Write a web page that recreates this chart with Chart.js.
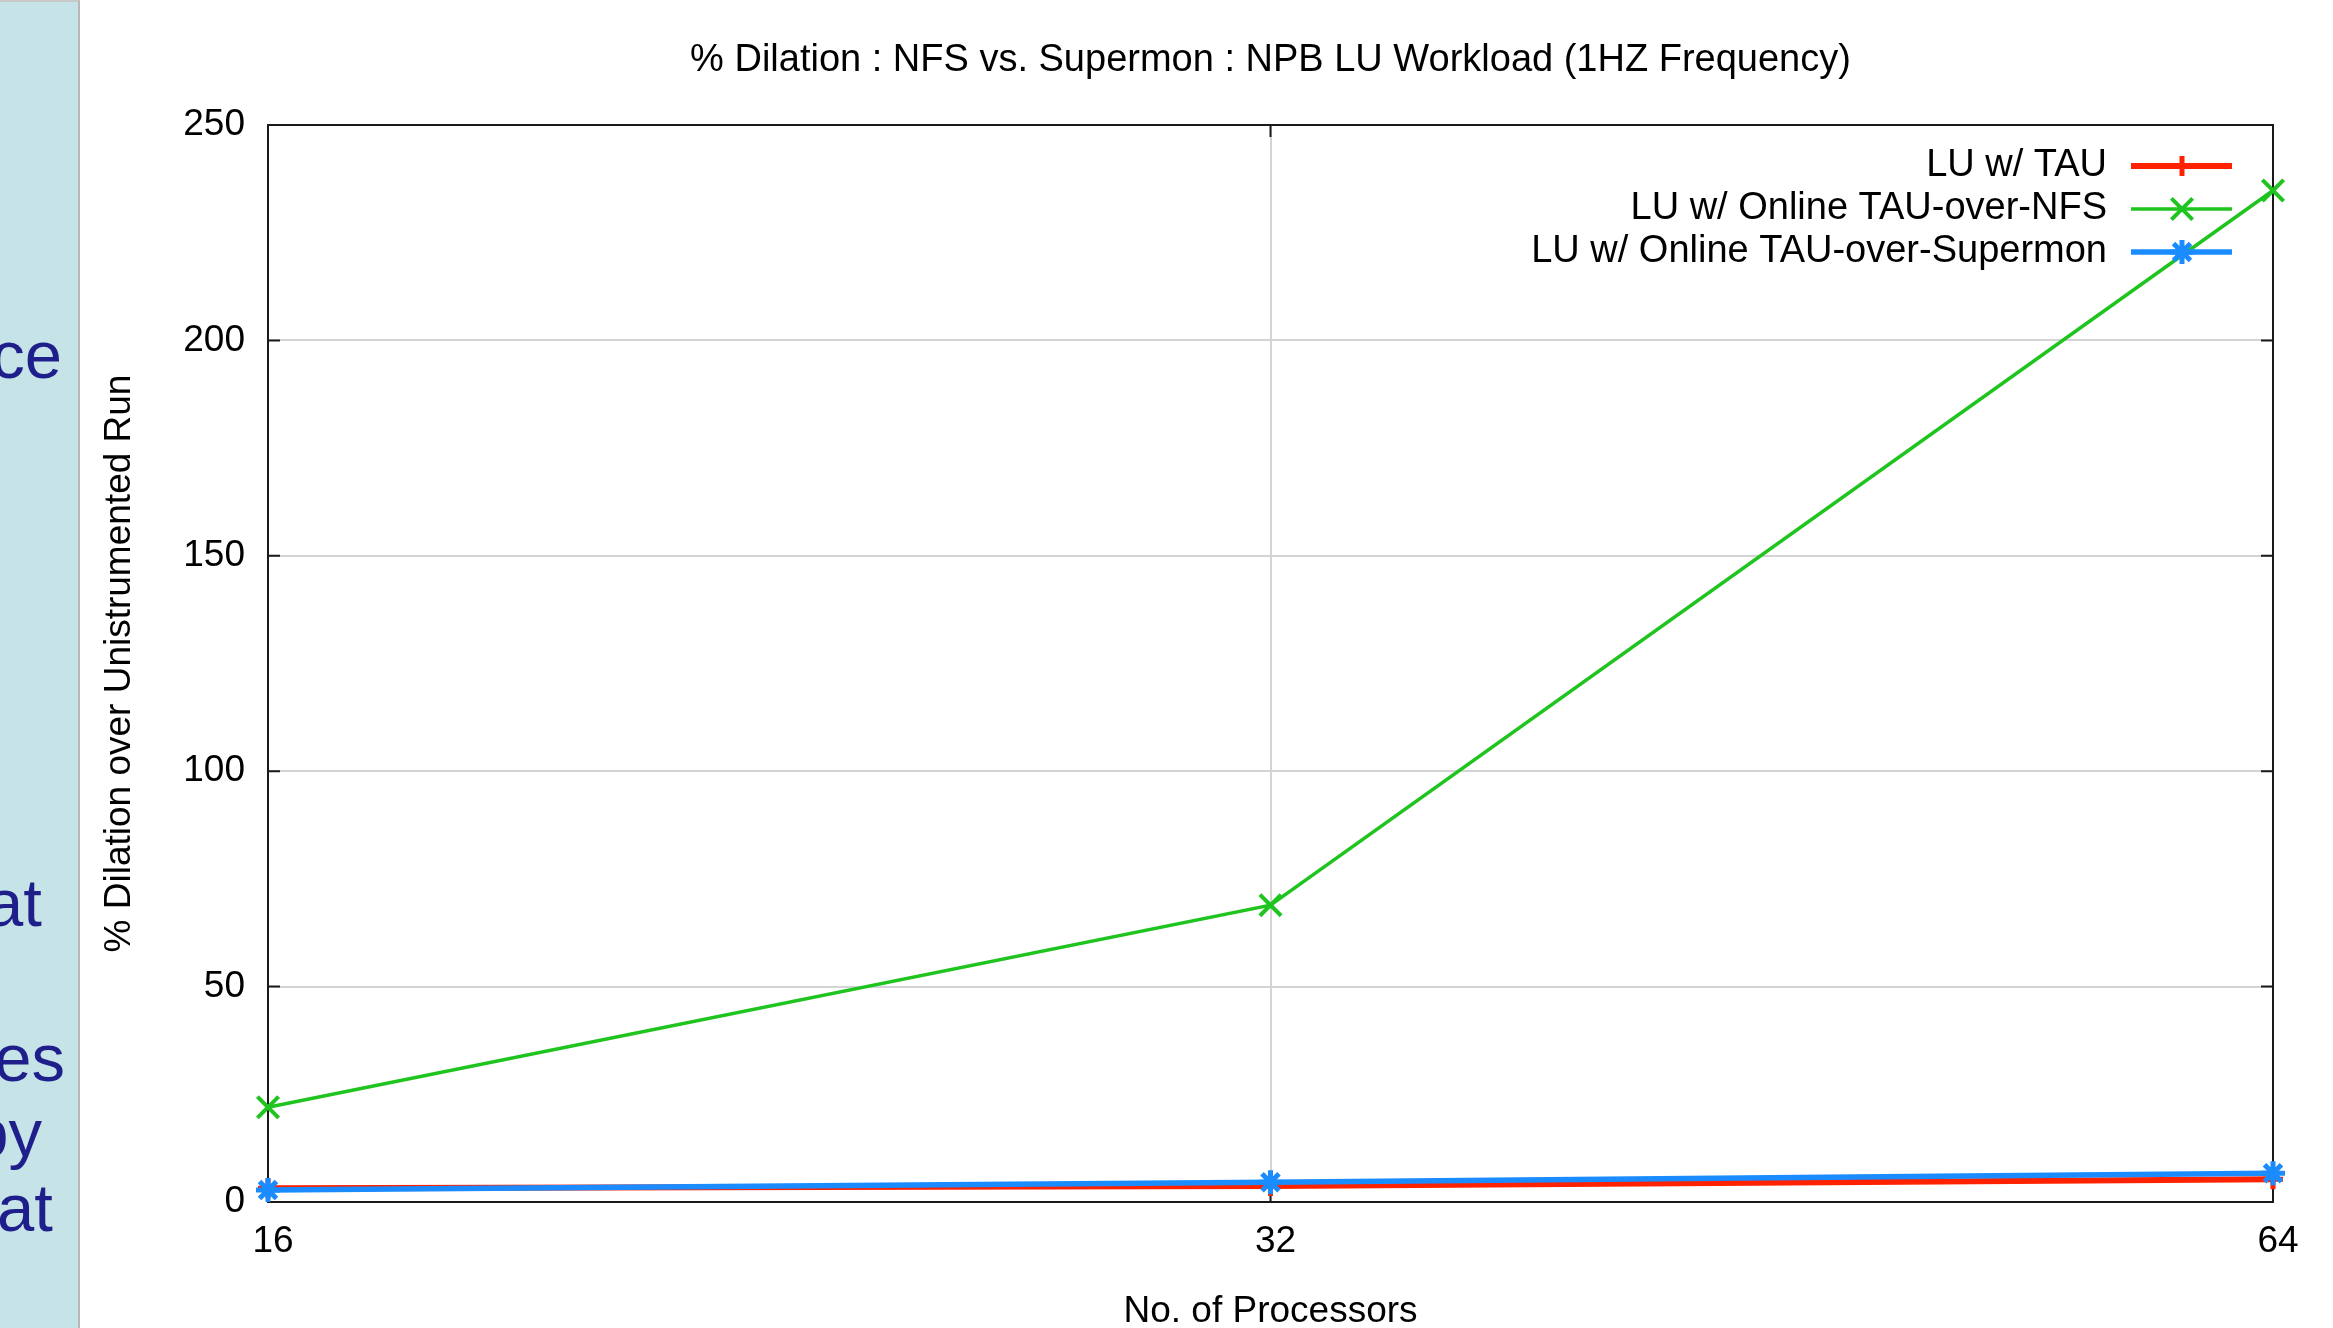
<!DOCTYPE html>
<html>
<head>
<meta charset="utf-8">
<script src="https://cdn.jsdelivr.net/npm/chart.js@4.4.0/dist/chart.umd.min.js"></script>
<style>
html,body{margin:0;padding:0;background:#fff;width:2333px;height:1328px;overflow:hidden;}
#chart{position:absolute;left:0;top:0;}
#side{position:absolute;left:0;top:0;width:78px;height:1326px;background:#c6e4e8;border-right:2px solid #b8b8b8;border-top:2px solid #c8c8c8;overflow:hidden;z-index:2;font-family:"Liberation Sans",Arial,sans-serif;font-size:67px;color:#1f1f8c;}
#side span{position:absolute;white-space:nowrap;line-height:1;}
</style>
</head>
<body>
<div id="side"></div>
<canvas id="chart" width="2333" height="1328"></canvas>
<script>
// ---- data ----
const processors = ['16', '32', '64'];
const luTau = [3.2, 3.7, 5.3];
const luNfs = [22, 68.9, 234.8];
const luSupermon = [2.8, 4.6, 6.7];
const seriesLabels = ['LU w/ TAU', 'LU w/ Online TAU-over-NFS', 'LU w/ Online TAU-over-Supermon'];
const yMin = 0, yMax = 250, yStep = 50;
const chartTitle = '% Dilation : NFS vs. Supermon : NPB LU Workload (1HZ Frequency)';
const xTitle = 'No. of Processors';
const yTitle = '% Dilation over Unistrumented Run';

// cropped slide text fragments on the left panel
const sideWords = ['ce', 'at', 'es', 'py', 'at'];
const sideRight = [16, 36, 13, 36, 25];
const sideBaseline = [378, 926, 1081, 1156, 1231];

const side = document.getElementById('side');
sideWords.forEach((w, i) => {
  const s = document.createElement('span');
  s.textContent = w;
  s.style.right = sideRight[i] + 'px';
  s.style.top = (sideBaseline[i] - 57 - 2) + 'px';
  side.appendChild(s);
});

const FONT = '"Liberation Sans", Arial, Helvetica, sans-serif';

const framePlugin = {
  id: 'frame',
  beforeDatasetsDraw(chart) {
    const {ctx, chartArea: ca, scales} = chart;
    ctx.save();
    ctx.strokeStyle = '#1a1a1a';
    ctx.lineWidth = 2;
    ctx.beginPath();
    scales.y.ticks.forEach((t, i) => {
      const y = scales.y.getPixelForTick(i);
      ctx.moveTo(ca.left, y); ctx.lineTo(ca.left + 12, y);
      ctx.moveTo(ca.right, y); ctx.lineTo(ca.right - 12, y);
    });
    scales.x.ticks.forEach((t, i) => {
      const x = scales.x.getPixelForTick(i);
      ctx.moveTo(x, ca.bottom); ctx.lineTo(x, ca.bottom - 12);
      ctx.moveTo(x, ca.top); ctx.lineTo(x, ca.top + 12);
    });
    ctx.stroke();
    ctx.strokeRect(ca.left, ca.top, ca.right - ca.left, ca.bottom - ca.top);
    ctx.restore();
  }
};

const titlePlugin = {
  id: 'ctitle',
  afterDraw(chart) {
    const {ctx, chartArea: ca} = chart;
    ctx.save();
    ctx.font = '38px ' + FONT;
    ctx.fillStyle = '#000';
    ctx.textAlign = 'center';
    ctx.textBaseline = 'middle';
    ctx.fillText(chartTitle, (ca.left + ca.right) / 2, 61);
    ctx.restore();
  }
};

const legendPlugin = {
  id: 'ilegend',
  afterDatasetsDraw(chart) {
    const {ctx, chartArea: ca} = chart;
    ctx.save();
    chart.data.datasets.forEach((ds, i) => {
      const y = ca.top + 41 + i * 43;
      ctx.font = '38px ' + FONT;
      ctx.fillStyle = '#000';
      ctx.textAlign = 'right';
      ctx.textBaseline = 'middle';
      ctx.fillText(ds.label, ca.right - 166, y);
      ctx.strokeStyle = ds.borderColor;
      ctx.lineWidth = ds.borderWidth;
      ctx.beginPath();
      ctx.moveTo(ca.right - 142, y);
      ctx.lineTo(ca.right - 41, y);
      ctx.stroke();
      ctx.lineWidth = ds.pointBorderWidth;
      ctx.fillStyle = ds.borderColor;
      Chart.helpers.drawPoint(ctx, {pointStyle: ds.pointStyle, radius: ds.pointRadius, borderWidth: ds.pointBorderWidth, rotation: 0}, ca.right - 91, y);
    });
    ctx.restore();
  }
};

new Chart(document.getElementById('chart'), {
  type: 'line',
  data: {
    labels: processors,
    datasets: [
      {label: seriesLabels[0], data: luTau, borderColor: '#ff2200', backgroundColor: '#ff2200', borderWidth: 6,
       pointStyle: 'cross', pointRadius: 10, pointBorderWidth: 5, order: 1},
      {label: seriesLabels[1], data: luNfs, borderColor: '#1fc41f', backgroundColor: '#1fc41f', borderWidth: 3.5,
       pointStyle: 'crossRot', pointRadius: 15, pointBorderWidth: 4, order: 2},
      {label: seriesLabels[2], data: luSupermon, borderColor: '#1a8cff', backgroundColor: '#1a8cff', borderWidth: 5.5,
       pointStyle: 'star', pointRadius: 12, pointBorderWidth: 5, order: 0}
    ]
  },
  options: {
    responsive: false,
    animation: false,
    devicePixelRatio: 1,
    clip: false,
    elements: {line: {tension: 0, fill: false}},
    layout: {padding: {left: 0, top: 125, right: 60, bottom: 0}},
    plugins: {legend: {display: false}, title: {display: false}, tooltip: {enabled: false}},
    scales: {
      x: {
        type: 'category',
        offset: false,
        grid: {color: '#d4d4d4', lineWidth: 2, drawTicks: false},
        border: {display: false},
        ticks: {font: {size: 37, family: FONT}, color: '#000', padding: 18, labelOffset: 5, maxRotation: 0},
        title: {display: true, text: xTitle, color: '#000', font: {size: 37, family: FONT, lineHeight: 1}, padding: {top: 0, bottom: -2}},
        afterFit(s) { s.height = 126; }
      },
      y: {
        min: yMin, max: yMax,
        grid: {color: '#d4d4d4', lineWidth: 2, drawTicks: false},
        border: {display: false},
        ticks: {stepSize: yStep, font: {size: 37, family: FONT}, color: '#000', padding: 23},
        title: {display: true, text: yTitle, color: '#000', font: {size: 37, family: FONT, lineHeight: 1}, padding: {top: 101, bottom: 0}},
        afterFit(s) { s.width = 268; }
      }
    }
  },
  plugins: [framePlugin, titlePlugin, legendPlugin]
});
</script>
</body>
</html>
